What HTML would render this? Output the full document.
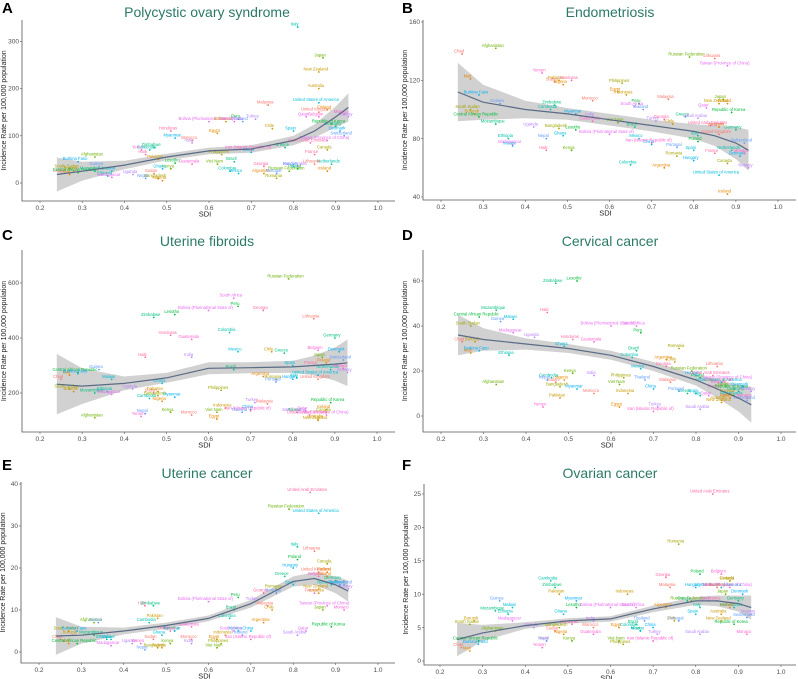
<!DOCTYPE html>
<html><head><meta charset="utf-8">
<style>
html,body{margin:0;padding:0;background:#fff;}
svg{display:block;font-family:"Liberation Sans",Arial,sans-serif;}
</style></head>
<body>
<svg id="chart" width="798" height="679" viewBox="0 0 798 679" xmlns="http://www.w3.org/2000/svg"></svg>
<script>
// ---- data ----
const countries = ["Chad","Mali","Burundi","South Sudan","Afghanistan","Central African Republic","Mozambique","Ethiopia","Malawi","Burkina Faso","Guinea","Uganda","Madagascar","Yemen","Haiti","Sudan","Nigeria","Pakistan","Bangladesh","Kenya","Lesotho","Zimbabwe","Cambodia","Ghana","Myanmar","Nepal","India","Bolivia (Plurinational State of)","Guatemala","Honduras","Morocco","Egypt","Indonesia","Philippines","Viet Nam","Peru","Brazil","Colombia","Mexico","China","Thailand","Turkey","South Africa","Iran (Islamic Republic of)","Georgia","Malaysia","Argentina","Chile","Romania","Russian Federation","Poland","Greece","Italy","Spain","Hungary","Portugal","Saudi Arabia","Qatar","Belgium","France","United Kingdom","Finland","Australia","Canada","Japan","Republic of Korea","Germany","Netherlands","United States of America","Denmark","Switzerland","Norway","Taiwan (Province of China)","Monaco","United Arab Emirates","Lithuania","Iceland","New Zealand"];
const sdi = [0.25,0.27,0.28,0.27,0.33,0.29,0.33,0.36,0.37,0.29,0.34,0.42,0.37,0.44,0.45,0.47,0.49,0.48,0.48,0.51,0.52,0.47,0.46,0.49,0.52,0.45,0.56,0.6,0.56,0.51,0.56,0.62,0.64,0.63,0.62,0.67,0.66,0.65,0.67,0.70,0.68,0.71,0.66,0.70,0.73,0.74,0.73,0.75,0.76,0.79,0.81,0.78,0.81,0.80,0.80,0.76,0.81,0.83,0.86,0.85,0.86,0.88,0.86,0.88,0.87,0.89,0.90,0.89,0.86,0.91,0.92,0.93,0.88,0.92,0.84,0.85,0.88,0.86];
const valsA = [20,18,25,30,55,22,25,15,25,45,35,18,12,70,60,20,5,50,10,30,42,75,70,30,95,10,85,130,40,110,90,105,130,60,40,135,45,25,20,65,130,135,130,70,35,165,20,115,10,25,30,75,330,110,35,20,35,140,140,60,150,155,200,70,265,125,120,40,170,110,100,140,90,145,85,40,25,235];
const valsB = [138,121,97,100,142,95,90,80,75,110,104,88,76,125,72,119,117,120,87,72,86,103,100,82,97,80,95,83,92,120,106,112,110,118,91,104,88,62,80,76,100,92,102,77,93,107,60,90,68,136,78,95,82,72,65,74,94,101,88,70,83,104,88,63,107,98,86,72,55,68,77,60,130,70,89,135,42,104];
const valsC = [250,265,205,215,110,275,200,205,250,270,285,215,195,115,330,200,170,205,190,130,485,475,180,235,185,125,330,500,395,410,120,105,145,210,130,515,285,420,350,140,130,165,545,135,500,160,260,350,250,615,130,345,255,300,250,240,130,135,355,300,250,310,105,130,330,165,400,285,265,350,320,275,120,290,120,470,140,100];
const valsD = [33,28,33,40,14,44,47,27,43,29,42,35,37,4,46,15,16,8,13,19,60,59,17,31,12,16,18,40,33,34,10,4,10,17,14,37,29,26,21,12,16,4,40,2,22,15,25,24,30,20,17,10,9,10,18,11,3,9,14,12,15,8,7,10,13,12,11,9,15,13,7,11,16,8,18,22,8,6];
const valsE = [3,2,4,5,7,2,4,3,3,5,7,2,1.5,2,11,3,1,8,1,2,5,11,7,4,5,0.5,2,12,6,5,3,3,4,2,1,13,10,8,5,5,4,12,5,3,14,11,7,10,15,34,22,18,25,16,20,14,4,5,18,14,19,19,14,21,10,6,17,16,33,16,16,15,11,10,38,24,18,15];
const valsF = [2,1.5,6,5.5,4.5,3,7.5,7,8,2.5,9,5,6,2,3,4.5,4,10,5,3,8,11,12,7,9,3,6,8,4,5.5,5,5,10,2.5,3,4.5,5.5,5,4.5,5,6,4,8,3,12.5,11,8,6,17.5,9,13,9,8,7,11,6,4,9,13,9,11,12,7,12,10,5.5,9,8,11,10,6.5,7,11,4,25,11,8,6];
// smooth fits (SDI knots, fitted values, CI half-widths)
const fitX = [0.24,0.3,0.4,0.5,0.6,0.7,0.8,0.85,0.9,0.93];
const fitA = [18,25,38,55,68,72,90,110,140,160];
const bandA = [36,20,9,7,7,8,10,14,22,30];
const fitB = [112,105,100,97,93,89,85,82,77,72];
const bandB = [20,12,6,4,4,4,5,7,11,14];
const fitC = [232,225,235,255,290,292,295,300,305,310];
const bandC = [110,65,25,18,22,20,22,35,60,85];
const fitD = [36,34,32,30,27,22,16,12,8,5];
const bandD = [9,5,2.5,2,2,2,2.5,4,6,8];
const fitE = [3.8,4,5,6.3,8,11.5,16.8,17.5,16,14.5];
const bandE = [4.5,2,0.8,0.7,0.7,0.9,1.2,1.5,2,2.5];
const fitF = [3.2,4.2,5.3,6,6.3,7.8,9,9,8.6,8];
const bandF = [2.5,1.2,0.5,0.4,0.4,0.5,0.6,0.8,1.2,1.8];
const xTicks = [0.2,0.3,0.4,0.5,0.6,0.7,0.8,0.9,1.0];
const yTicksA = [0,100,200,300];
const yTicksB = [40,80,120,160];
const yTicksC = [200,400,600];
const yTicksD = [0,20,40,60];
const yTicksE = [0,10,20,30,40];
const yTicksF = [0,5,10,15,20,25];

// ---- layout (pixel geometry) ----
const panels = [
 {id:"a",letter:"A",title:"Polycystic ovary syndrome",vals:valsA,fit:fitA,band:bandA,yt:yTicksA,px:[40,378],py:[183,41.3],dy:[0,300],left:22,right:395,top:20,bottom:201,tx:207,ty:17,lx:2,ly:13},
 {id:"b",letter:"B",title:"Endometriosis",vals:valsB,fit:fitB,band:bandB,yt:yTicksB,px:[441,778],py:[197,22],dy:[40,160],left:423,right:796,top:20,bottom:200,tx:610,ty:17,lx:402,ly:13},
 {id:"c",letter:"C",title:"Uterine fibroids",vals:valsC,fit:fitC,band:bandC,yt:yTicksC,px:[40,377],py:[393,283],dy:[200,600],left:22,right:395,top:250,bottom:432,tx:207,ty:246,lx:2,ly:240},
 {id:"d",letter:"D",title:"Cervical cancer",vals:valsD,fit:fitD,band:bandD,yt:yTicksD,px:[441,781],py:[416,281],dy:[0,60],left:423,right:796,top:250,bottom:432,tx:610,ty:246,lx:402,ly:240},
 {id:"e",letter:"E",title:"Uterine cancer",vals:valsE,fit:fitE,band:bandE,yt:yTicksE,px:[39,378],py:[652,484],dy:[0,40],left:21,right:395,top:482,bottom:663,tx:207,ty:478,lx:2,ly:470},
 {id:"f",letter:"F",title:"Ovarian cancer",vals:valsF,fit:fitF,band:bandF,yt:yTicksF,px:[440,781],py:[661,494],dy:[0,25],left:424,right:796,top:484,bottom:665,tx:610,ty:478,lx:402,ly:470}
];
const palette = ["#F8766D","#E58700","#C99800","#A3A500","#6BB100","#00BA38","#00BF7D","#00C0AF","#00BCD8","#00B0F6","#619CFF","#B983FF","#E76BF3","#FD61D1","#FF67A4"];
const NS = "http://www.w3.org/2000/svg";
const svg = document.getElementById("chart");
function mk(tag, attrs, parent){const e=document.createElementNS(NS,tag);for(const k in attrs)e.setAttribute(k,attrs[k]);(parent||svg).appendChild(e);return e;}

panels.forEach(p=>{
  const xs = v => p.px[0] + (v-0.2)/0.8*(p.px[1]-p.px[0]);
  const ys = v => p.py[0] + (v-p.dy[0])/(p.dy[1]-p.dy[0])*(p.py[1]-p.py[0]);
  const g = mk("g",{});
  
  
  const L = mk("text",{x:p.lx,y:p.ly,"font-size":15,"font-weight":"bold",fill:"#000"},g);
  L.textContent = p.letter;
  
  
  const T = mk("text",{x:p.tx,y:p.ty,"font-size":14,fill:"#2b7a68","text-anchor":"middle"},g);
  T.textContent = p.title;
  
  
  const ax = mk("path",{d:`M${p.left},${p.top} V${p.bottom} H${p.right}`,stroke:"#555",fill:"none","stroke-width":0.8},g);
  
  
  xTicks.forEach(t=>{
    const x=xs(t);
    mk("line",{x1:x,x2:x,y1:p.bottom,y2:p.bottom+2,stroke:"#555","stroke-width":0.6},g);
    const tl=mk("text",{x:x,y:p.bottom+9,"font-size":6.5,fill:"#4d4d4d","text-anchor":"middle"},g);
    tl.textContent=t.toFixed(1);
    
    
  });
  p.yt.forEach(t=>{
    const y=ys(t);
    mk("line",{x1:p.left-2,x2:p.left,y1:y,y2:y,stroke:"#555","stroke-width":0.6},g);
    const tl=mk("text",{x:p.left-3,y:y+2.2,"font-size":6.5,fill:"#4d4d4d","text-anchor":"end"},g);
    tl.textContent=t;
    
    
  });
  const xt=mk("text",{x:(p.px[0]+p.px[1])/2-4,y:p.bottom+15.5,"font-size":7.5,fill:"#222","text-anchor":"middle"},g);
  xt.textContent="SDI";
  
  
  const ym=(p.top+p.bottom)/2, yx=p.left-16;
  const yt=mk("text",{x:yx,y:ym,"font-size":7,fill:"#222","text-anchor":"middle",transform:`rotate(-90 ${yx} ${ym})`},g);
  yt.textContent="Incidence Rate per 100,000 population";
  
  
  let up=[],lo=[],ln=[];
  fitX.forEach((sx,i)=>{up.push(`${xs(sx).toFixed(1)},${ys(p.fit[i]+p.band[i]).toFixed(1)}`);lo.push(`${xs(sx).toFixed(1)},${ys(p.fit[i]-p.band[i]).toFixed(1)}`);ln.push(`${xs(sx).toFixed(1)},${ys(p.fit[i]).toFixed(1)}`);});
  const rb=mk("polygon",{points:up.concat(lo.reverse()).join(" "),fill:"#bdbdbd","fill-opacity":0.7},g);
  
  
  countries.forEach((c,i)=>{
    const x=xs(sdi[i]), y=ys(p.vals[i]), col=palette[i%palette.length];
    const pt=mk("circle",{cx:x,cy:y,r:0.9,fill:col},g);
    
    
    const lb=mk("text",{x:x-3,y:y-1.5,"font-size":4.2,fill:col,"text-anchor":"middle"},g);
    lb.textContent=c;
    
    
  });
  const fl=mk("polyline",{points:ln.join(" "),fill:"none",stroke:"#5a6b85","stroke-width":1.2},g);
  
  
});
</script>
</body></html>
